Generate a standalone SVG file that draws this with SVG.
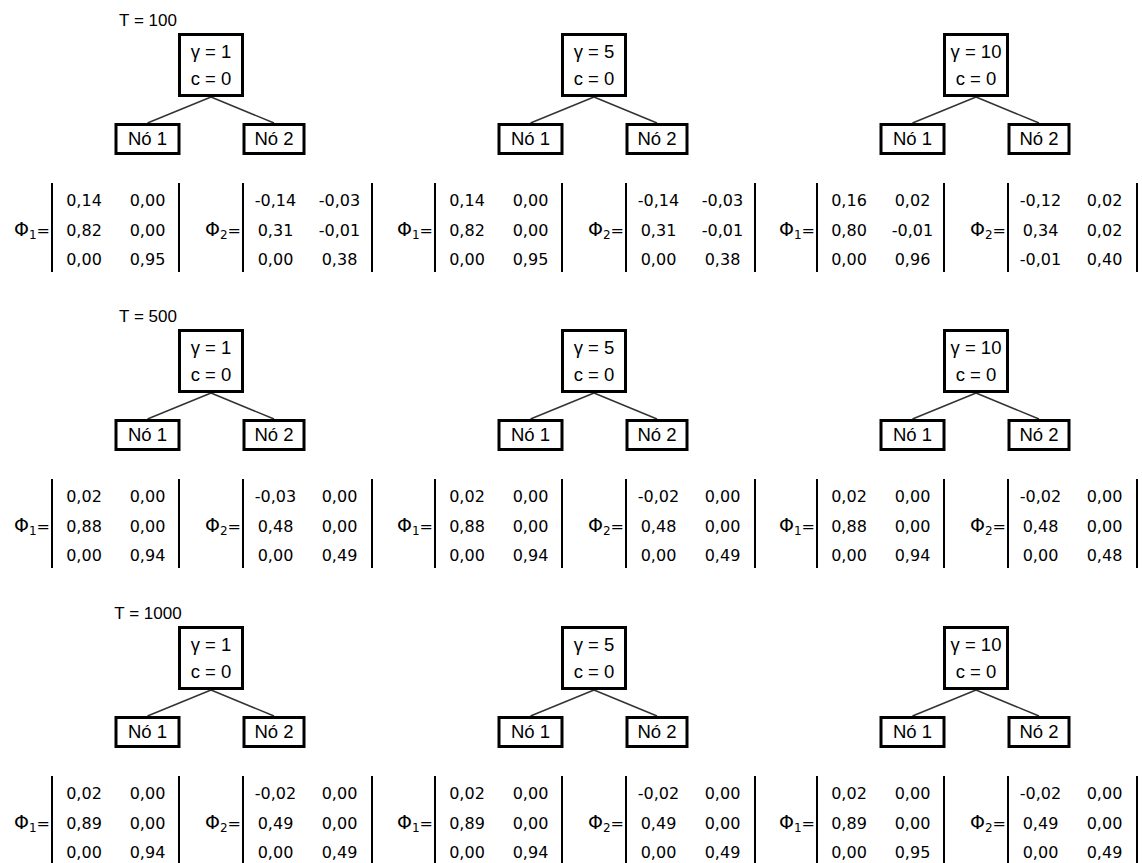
<svg xmlns="http://www.w3.org/2000/svg" width="1142" height="863" viewBox="0 0 1142 863">
<style>
.box{fill:#fff;stroke:#000;stroke-width:3}
.edge{stroke:#333;stroke-width:1.5;fill:none}
.bar{stroke:#000;stroke-width:2}
.lbl{font-family:"Liberation Sans",Arial,sans-serif;font-size:18.5px;text-anchor:middle;fill:#000}
.tl{font-family:"Liberation Sans",Arial,sans-serif;font-size:17px;text-anchor:middle;fill:#000}
.num{font-family:"DejaVu Sans",Verdana,sans-serif;font-size:16px;text-anchor:middle;fill:#000}
.phi{font-family:"DejaVu Sans",Verdana,sans-serif;font-size:19px;text-anchor:end;fill:#000}
.sub{font-size:12px}
.eq{font-size:16px}
</style>
<rect width="1142" height="863" fill="#fff"/>
<g id="connectors">
<g transform="translate(0,0)"><line class="edge" x1="211" y1="97" x2="147.5" y2="123"/><line class="edge" x1="211" y1="97" x2="274" y2="123"/></g>
<g transform="translate(383,0)"><line class="edge" x1="211" y1="97" x2="147.5" y2="123"/><line class="edge" x1="211" y1="97" x2="274" y2="123"/></g>
<g transform="translate(765,0)"><line class="edge" x1="211" y1="97" x2="147.5" y2="123"/><line class="edge" x1="211" y1="97" x2="274" y2="123"/></g>
<g transform="translate(0,296)"><line class="edge" x1="211" y1="97" x2="147.5" y2="123"/><line class="edge" x1="211" y1="97" x2="274" y2="123"/></g>
<g transform="translate(383,296)"><line class="edge" x1="211" y1="97" x2="147.5" y2="123"/><line class="edge" x1="211" y1="97" x2="274" y2="123"/></g>
<g transform="translate(765,296)"><line class="edge" x1="211" y1="97" x2="147.5" y2="123"/><line class="edge" x1="211" y1="97" x2="274" y2="123"/></g>
<g transform="translate(0,593)"><line class="edge" x1="211" y1="97" x2="147.5" y2="123"/><line class="edge" x1="211" y1="97" x2="274" y2="123"/></g>
<g transform="translate(383,593)"><line class="edge" x1="211" y1="97" x2="147.5" y2="123"/><line class="edge" x1="211" y1="97" x2="274" y2="123"/></g>
<g transform="translate(765,593)"><line class="edge" x1="211" y1="97" x2="147.5" y2="123"/><line class="edge" x1="211" y1="97" x2="274" y2="123"/></g>
</g>

<text class="tl" x="148" y="26">T = 100</text>
<text class="tl" x="148" y="322">T = 500</text>
<text class="tl" x="148" y="619">T = 1000</text>

<!-- Row 1 -->
<g transform="translate(0,0)">
<g id="r1c1-root"><rect class="box" x="179.5" y="34.5" width="63" height="61"/><text class="lbl" x="211" y="57.5">γ = 1</text><text class="lbl" x="211" y="85">c = 0</text></g>
<g id="r1c1-n1"><rect class="box" x="116" y="124.5" width="63" height="29"/><text class="lbl" x="147.5" y="145">Nó 1</text></g>
<g id="r1c1-n2"><rect class="box" x="244" y="124.5" width="60" height="29"/><text class="lbl" x="274" y="145">Nó 2</text></g>
<g id="r1c1-phi1"><text class="phi" x="50" y="236">Φ<tspan class="sub" dy="3">1</tspan><tspan class="eq" dy="-3">=</tspan></text><line class="bar" x1="52" y1="183" x2="52" y2="272"/><line class="bar" x1="179" y1="183" x2="179" y2="272"/>
<text class="num" x="84" y="206">0,14</text><text class="num" x="147.5" y="206">0,00</text><text class="num" x="84" y="235.5">0,82</text><text class="num" x="147.5" y="235.5">0,00</text><text class="num" x="84" y="265">0,00</text><text class="num" x="147.5" y="265">0,95</text></g>
<g id="r1c1-phi2"><text class="phi" x="241" y="236">Φ<tspan class="sub" dy="3">2</tspan><tspan class="eq" dy="-3">=</tspan></text><line class="bar" x1="243" y1="183" x2="243" y2="272"/><line class="bar" x1="372" y1="183" x2="372" y2="272"/>
<text class="num" x="275.5" y="206">-0,14</text><text class="num" x="339.5" y="206">-0,03</text><text class="num" x="275.5" y="235.5">0,31</text><text class="num" x="339.5" y="235.5">-0,01</text><text class="num" x="275.5" y="265">0,00</text><text class="num" x="339.5" y="265">0,38</text></g>
</g>

<g transform="translate(383,0)">
<g id="r1c2-root"><rect class="box" x="179.5" y="34.5" width="63" height="61"/><text class="lbl" x="211" y="57.5">γ = 5</text><text class="lbl" x="211" y="85">c = 0</text></g>
<g id="r1c2-n1"><rect class="box" x="116" y="124.5" width="63" height="29"/><text class="lbl" x="147.5" y="145">Nó 1</text></g>
<g id="r1c2-n2"><rect class="box" x="244" y="124.5" width="60" height="29"/><text class="lbl" x="274" y="145">Nó 2</text></g>
<g id="r1c2-phi1"><text class="phi" x="50" y="236">Φ<tspan class="sub" dy="3">1</tspan><tspan class="eq" dy="-3">=</tspan></text><line class="bar" x1="52" y1="183" x2="52" y2="272"/><line class="bar" x1="179" y1="183" x2="179" y2="272"/>
<text class="num" x="84" y="206">0,14</text><text class="num" x="147.5" y="206">0,00</text><text class="num" x="84" y="235.5">0,82</text><text class="num" x="147.5" y="235.5">0,00</text><text class="num" x="84" y="265">0,00</text><text class="num" x="147.5" y="265">0,95</text></g>
<g id="r1c2-phi2"><text class="phi" x="241" y="236">Φ<tspan class="sub" dy="3">2</tspan><tspan class="eq" dy="-3">=</tspan></text><line class="bar" x1="243" y1="183" x2="243" y2="272"/><line class="bar" x1="372" y1="183" x2="372" y2="272"/>
<text class="num" x="275.5" y="206">-0,14</text><text class="num" x="339.5" y="206">-0,03</text><text class="num" x="275.5" y="235.5">0,31</text><text class="num" x="339.5" y="235.5">-0,01</text><text class="num" x="275.5" y="265">0,00</text><text class="num" x="339.5" y="265">0,38</text></g>
</g>

<g transform="translate(765,0)">
<g id="r1c3-root"><rect class="box" x="179.5" y="34.5" width="63" height="61"/><text class="lbl" x="211" y="57.5">γ = 10</text><text class="lbl" x="211" y="85">c = 0</text></g>
<g id="r1c3-n1"><rect class="box" x="116" y="124.5" width="63" height="29"/><text class="lbl" x="147.5" y="145">Nó 1</text></g>
<g id="r1c3-n2"><rect class="box" x="244" y="124.5" width="60" height="29"/><text class="lbl" x="274" y="145">Nó 2</text></g>
<g id="r1c3-phi1"><text class="phi" x="50" y="236">Φ<tspan class="sub" dy="3">1</tspan><tspan class="eq" dy="-3">=</tspan></text><line class="bar" x1="52" y1="183" x2="52" y2="272"/><line class="bar" x1="179" y1="183" x2="179" y2="272"/>
<text class="num" x="84" y="206">0,16</text><text class="num" x="147.5" y="206">0,02</text><text class="num" x="84" y="235.5">0,80</text><text class="num" x="147.5" y="235.5">-0,01</text><text class="num" x="84" y="265">0,00</text><text class="num" x="147.5" y="265">0,96</text></g>
<g id="r1c3-phi2"><text class="phi" x="241" y="236">Φ<tspan class="sub" dy="3">2</tspan><tspan class="eq" dy="-3">=</tspan></text><line class="bar" x1="243" y1="183" x2="243" y2="272"/><line class="bar" x1="372" y1="183" x2="372" y2="272"/>
<text class="num" x="275.5" y="206">-0,12</text><text class="num" x="339.5" y="206">0,02</text><text class="num" x="275.5" y="235.5">0,34</text><text class="num" x="339.5" y="235.5">0,02</text><text class="num" x="275.5" y="265">-0,01</text><text class="num" x="339.5" y="265">0,40</text></g>
</g>

<!-- Row 2 -->
<g transform="translate(0,296)">
<g id="r2c1-root"><rect class="box" x="179.5" y="34.5" width="63" height="61"/><text class="lbl" x="211" y="57.5">γ = 1</text><text class="lbl" x="211" y="85">c = 0</text></g>
<g id="r2c1-n1"><rect class="box" x="116" y="124.5" width="63" height="29"/><text class="lbl" x="147.5" y="145">Nó 1</text></g>
<g id="r2c1-n2"><rect class="box" x="244" y="124.5" width="60" height="29"/><text class="lbl" x="274" y="145">Nó 2</text></g>
<g id="r2c1-phi1"><text class="phi" x="50" y="236">Φ<tspan class="sub" dy="3">1</tspan><tspan class="eq" dy="-3">=</tspan></text><line class="bar" x1="52" y1="183" x2="52" y2="272"/><line class="bar" x1="179" y1="183" x2="179" y2="272"/>
<text class="num" x="84" y="206">0,02</text><text class="num" x="147.5" y="206">0,00</text><text class="num" x="84" y="235.5">0,88</text><text class="num" x="147.5" y="235.5">0,00</text><text class="num" x="84" y="265">0,00</text><text class="num" x="147.5" y="265">0,94</text></g>
<g id="r2c1-phi2"><text class="phi" x="241" y="236">Φ<tspan class="sub" dy="3">2</tspan><tspan class="eq" dy="-3">=</tspan></text><line class="bar" x1="243" y1="183" x2="243" y2="272"/><line class="bar" x1="372" y1="183" x2="372" y2="272"/>
<text class="num" x="275.5" y="206">-0,03</text><text class="num" x="339.5" y="206">0,00</text><text class="num" x="275.5" y="235.5">0,48</text><text class="num" x="339.5" y="235.5">0,00</text><text class="num" x="275.5" y="265">0,00</text><text class="num" x="339.5" y="265">0,49</text></g>
</g>

<g transform="translate(383,296)">
<g id="r2c2-root"><rect class="box" x="179.5" y="34.5" width="63" height="61"/><text class="lbl" x="211" y="57.5">γ = 5</text><text class="lbl" x="211" y="85">c = 0</text></g>
<g id="r2c2-n1"><rect class="box" x="116" y="124.5" width="63" height="29"/><text class="lbl" x="147.5" y="145">Nó 1</text></g>
<g id="r2c2-n2"><rect class="box" x="244" y="124.5" width="60" height="29"/><text class="lbl" x="274" y="145">Nó 2</text></g>
<g id="r2c2-phi1"><text class="phi" x="50" y="236">Φ<tspan class="sub" dy="3">1</tspan><tspan class="eq" dy="-3">=</tspan></text><line class="bar" x1="52" y1="183" x2="52" y2="272"/><line class="bar" x1="179" y1="183" x2="179" y2="272"/>
<text class="num" x="84" y="206">0,02</text><text class="num" x="147.5" y="206">0,00</text><text class="num" x="84" y="235.5">0,88</text><text class="num" x="147.5" y="235.5">0,00</text><text class="num" x="84" y="265">0,00</text><text class="num" x="147.5" y="265">0,94</text></g>
<g id="r2c2-phi2"><text class="phi" x="241" y="236">Φ<tspan class="sub" dy="3">2</tspan><tspan class="eq" dy="-3">=</tspan></text><line class="bar" x1="243" y1="183" x2="243" y2="272"/><line class="bar" x1="372" y1="183" x2="372" y2="272"/>
<text class="num" x="275.5" y="206">-0,02</text><text class="num" x="339.5" y="206">0,00</text><text class="num" x="275.5" y="235.5">0,48</text><text class="num" x="339.5" y="235.5">0,00</text><text class="num" x="275.5" y="265">0,00</text><text class="num" x="339.5" y="265">0,49</text></g>
</g>

<g transform="translate(765,296)">
<g id="r2c3-root"><rect class="box" x="179.5" y="34.5" width="63" height="61"/><text class="lbl" x="211" y="57.5">γ = 10</text><text class="lbl" x="211" y="85">c = 0</text></g>
<g id="r2c3-n1"><rect class="box" x="116" y="124.5" width="63" height="29"/><text class="lbl" x="147.5" y="145">Nó 1</text></g>
<g id="r2c3-n2"><rect class="box" x="244" y="124.5" width="60" height="29"/><text class="lbl" x="274" y="145">Nó 2</text></g>
<g id="r2c3-phi1"><text class="phi" x="50" y="236">Φ<tspan class="sub" dy="3">1</tspan><tspan class="eq" dy="-3">=</tspan></text><line class="bar" x1="52" y1="183" x2="52" y2="272"/><line class="bar" x1="179" y1="183" x2="179" y2="272"/>
<text class="num" x="84" y="206">0,02</text><text class="num" x="147.5" y="206">0,00</text><text class="num" x="84" y="235.5">0,88</text><text class="num" x="147.5" y="235.5">0,00</text><text class="num" x="84" y="265">0,00</text><text class="num" x="147.5" y="265">0,94</text></g>
<g id="r2c3-phi2"><text class="phi" x="241" y="236">Φ<tspan class="sub" dy="3">2</tspan><tspan class="eq" dy="-3">=</tspan></text><line class="bar" x1="243" y1="183" x2="243" y2="272"/><line class="bar" x1="372" y1="183" x2="372" y2="272"/>
<text class="num" x="275.5" y="206">-0,02</text><text class="num" x="339.5" y="206">0,00</text><text class="num" x="275.5" y="235.5">0,48</text><text class="num" x="339.5" y="235.5">0,00</text><text class="num" x="275.5" y="265">0,00</text><text class="num" x="339.5" y="265">0,48</text></g>
</g>

<!-- Row 3 -->
<g transform="translate(0,593)">
<g id="r3c1-root"><rect class="box" x="179.5" y="34.5" width="63" height="61"/><text class="lbl" x="211" y="57.5">γ = 1</text><text class="lbl" x="211" y="85">c = 0</text></g>
<g id="r3c1-n1"><rect class="box" x="116" y="124.5" width="63" height="29"/><text class="lbl" x="147.5" y="145">Nó 1</text></g>
<g id="r3c1-n2"><rect class="box" x="244" y="124.5" width="60" height="29"/><text class="lbl" x="274" y="145">Nó 2</text></g>
<g id="r3c1-phi1"><text class="phi" x="50" y="236">Φ<tspan class="sub" dy="3">1</tspan><tspan class="eq" dy="-3">=</tspan></text><line class="bar" x1="52" y1="183" x2="52" y2="272"/><line class="bar" x1="179" y1="183" x2="179" y2="272"/>
<text class="num" x="84" y="206">0,02</text><text class="num" x="147.5" y="206">0,00</text><text class="num" x="84" y="235.5">0,89</text><text class="num" x="147.5" y="235.5">0,00</text><text class="num" x="84" y="265">0,00</text><text class="num" x="147.5" y="265">0,94</text></g>
<g id="r3c1-phi2"><text class="phi" x="241" y="236">Φ<tspan class="sub" dy="3">2</tspan><tspan class="eq" dy="-3">=</tspan></text><line class="bar" x1="243" y1="183" x2="243" y2="272"/><line class="bar" x1="372" y1="183" x2="372" y2="272"/>
<text class="num" x="275.5" y="206">-0,02</text><text class="num" x="339.5" y="206">0,00</text><text class="num" x="275.5" y="235.5">0,49</text><text class="num" x="339.5" y="235.5">0,00</text><text class="num" x="275.5" y="265">0,00</text><text class="num" x="339.5" y="265">0,49</text></g>
</g>

<g transform="translate(383,593)">
<g id="r3c2-root"><rect class="box" x="179.5" y="34.5" width="63" height="61"/><text class="lbl" x="211" y="57.5">γ = 5</text><text class="lbl" x="211" y="85">c = 0</text></g>
<g id="r3c2-n1"><rect class="box" x="116" y="124.5" width="63" height="29"/><text class="lbl" x="147.5" y="145">Nó 1</text></g>
<g id="r3c2-n2"><rect class="box" x="244" y="124.5" width="60" height="29"/><text class="lbl" x="274" y="145">Nó 2</text></g>
<g id="r3c2-phi1"><text class="phi" x="50" y="236">Φ<tspan class="sub" dy="3">1</tspan><tspan class="eq" dy="-3">=</tspan></text><line class="bar" x1="52" y1="183" x2="52" y2="272"/><line class="bar" x1="179" y1="183" x2="179" y2="272"/>
<text class="num" x="84" y="206">0,02</text><text class="num" x="147.5" y="206">0,00</text><text class="num" x="84" y="235.5">0,89</text><text class="num" x="147.5" y="235.5">0,00</text><text class="num" x="84" y="265">0,00</text><text class="num" x="147.5" y="265">0,94</text></g>
<g id="r3c2-phi2"><text class="phi" x="241" y="236">Φ<tspan class="sub" dy="3">2</tspan><tspan class="eq" dy="-3">=</tspan></text><line class="bar" x1="243" y1="183" x2="243" y2="272"/><line class="bar" x1="372" y1="183" x2="372" y2="272"/>
<text class="num" x="275.5" y="206">-0,02</text><text class="num" x="339.5" y="206">0,00</text><text class="num" x="275.5" y="235.5">0,49</text><text class="num" x="339.5" y="235.5">0,00</text><text class="num" x="275.5" y="265">0,00</text><text class="num" x="339.5" y="265">0,49</text></g>
</g>

<g transform="translate(765,593)">
<g id="r3c3-root"><rect class="box" x="179.5" y="34.5" width="63" height="61"/><text class="lbl" x="211" y="57.5">γ = 10</text><text class="lbl" x="211" y="85">c = 0</text></g>
<g id="r3c3-n1"><rect class="box" x="116" y="124.5" width="63" height="29"/><text class="lbl" x="147.5" y="145">Nó 1</text></g>
<g id="r3c3-n2"><rect class="box" x="244" y="124.5" width="60" height="29"/><text class="lbl" x="274" y="145">Nó 2</text></g>
<g id="r3c3-phi1"><text class="phi" x="50" y="236">Φ<tspan class="sub" dy="3">1</tspan><tspan class="eq" dy="-3">=</tspan></text><line class="bar" x1="52" y1="183" x2="52" y2="272"/><line class="bar" x1="179" y1="183" x2="179" y2="272"/>
<text class="num" x="84" y="206">0,02</text><text class="num" x="147.5" y="206">0,00</text><text class="num" x="84" y="235.5">0,89</text><text class="num" x="147.5" y="235.5">0,00</text><text class="num" x="84" y="265">0,00</text><text class="num" x="147.5" y="265">0,95</text></g>
<g id="r3c3-phi2"><text class="phi" x="241" y="236">Φ<tspan class="sub" dy="3">2</tspan><tspan class="eq" dy="-3">=</tspan></text><line class="bar" x1="243" y1="183" x2="243" y2="272"/><line class="bar" x1="372" y1="183" x2="372" y2="272"/>
<text class="num" x="275.5" y="206">-0,02</text><text class="num" x="339.5" y="206">0,00</text><text class="num" x="275.5" y="235.5">0,49</text><text class="num" x="339.5" y="235.5">0,00</text><text class="num" x="275.5" y="265">0,00</text><text class="num" x="339.5" y="265">0,49</text></g>
</g>
</svg>
